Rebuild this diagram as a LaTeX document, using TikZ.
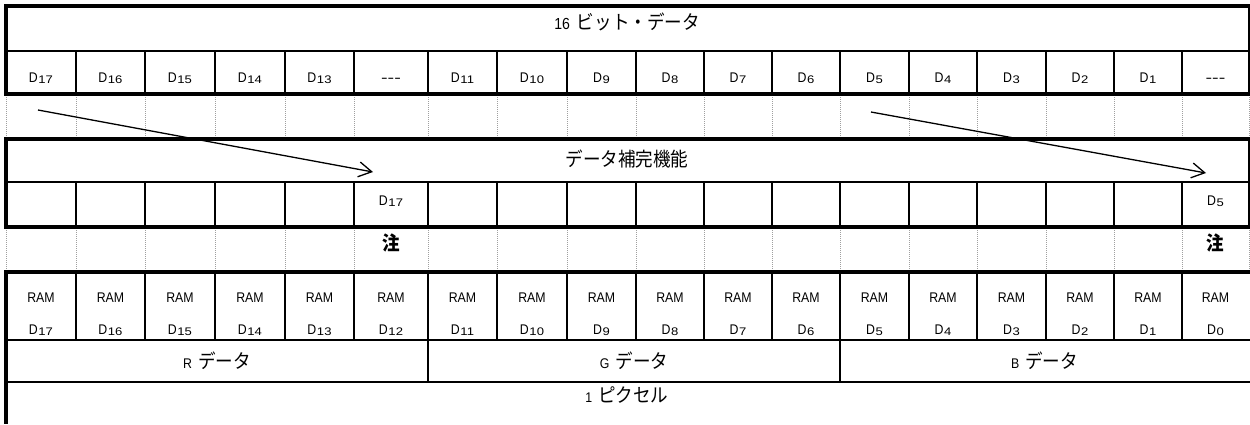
\documentclass[tikz,border=0pt]{standalone}
\usepackage{graphicx}
\usepackage{fontspec}
\setmainfont{Liberation Sans}[FakeStretch=0.88]
\newfontfamily\jpfont{Noto Sans CJK JP}[FakeStretch=0.9]
\usetikzlibrary{arrows.meta}
\newcommand\Dsub[1]{D\hspace{0.6pt}\raisebox{-1.3pt}{\scalebox{1.35}[1]{\fontsize{11}{11}\selectfont #1}}}
\newcommand\Jtxt[1]{{\jpfont\fontsize{19.5}{20}\selectfont #1}}
\newcommand\tripdash{\scalebox{1.6}[1]{-{}-{}-}}
\begin{document}
\begin{tikzpicture}[x=1pt,y=-1pt,
  lab/.style={font=\fontsize{14}{14}\selectfont, inner sep=0pt},
  biglab/.style={font=\fontsize{16}{16}\selectfont, inner sep=0pt},
  heavyrule/.style={line width=4.3pt},
  vrule/.style={line width=2.6pt},
  hrule/.style={line width=2.1pt},
  dotrule/.style={draw=gray!75, line width=1pt, dash pattern=on 1pt off 1pt},
  shiftarrow/.style={line width=1.3pt, -{Straight Barb[length=13pt,width=15pt,line width=1.3pt]}}]
\useasboundingbox (0,0) rectangle (1250,424);
\def\allx{6,76,145,215,285,354,428,497,567,636,704,772,840,909,977,1046,1114,1182,1249}
\def\innerx{76,145,215,285,354,428,497,567,636,704,772,840,909,977,1046,1114,1182}
% ---------- section 1 ----------
\draw[hrule] (6,51) -- (1249,51);
\foreach \x in \innerx {\draw[vrule] (\x,51) -- (\x,94);}
\draw[hrule] (1249,6) -- (1249,94);
\draw[heavyrule] (4,6) -- (1250,6);
\draw[heavyrule] (4,94) -- (1250,94);
\draw[heavyrule] (6,4) -- (6,96);
% dotted row 1
\foreach \x in \allx {\draw[dotrule] (\x,97) -- (\x,137);}
% ---------- section 2 ----------
\draw[hrule] (6,182) -- (1249,182);
\foreach \x in \innerx {\draw[vrule] (\x,182) -- (\x,227);}
\draw[hrule] (1249,139) -- (1249,227);
\draw[heavyrule] (4,139) -- (1250,139);
\draw[heavyrule] (4,227) -- (1250,227);
\draw[heavyrule] (6,137) -- (6,229);
% dotted row 2
\foreach \x in \allx {\draw[dotrule] (\x,230) -- (\x,270);}
% ---------- section 3 ----------
\foreach \x in \innerx {\draw[vrule] (\x,272) -- (\x,340);}
\draw[vrule] (428,340) -- (428,382);
\draw[vrule] (840,340) -- (840,382);
\draw[hrule] (6,340) -- (1250,340);
\draw[hrule] (6,382) -- (1250,382);
\draw[heavyrule] (4,272) -- (1250,272);
\draw[heavyrule] (6,270) -- (6,424);
% ---------- texts ----------
\node[biglab] (title1) at (627,22) {16\hspace{7pt}\Jtxt{ビット・データ}};
\node[lab] (b1) at (41,78) {\Dsub{17}};
\node[lab] (b2) at (110.5,78) {\Dsub{16}};
\node[lab] (b3) at (180,78) {\Dsub{15}};
\node[lab] (b4) at (250,78) {\Dsub{14}};
\node[lab] (b5) at (319.5,78) {\Dsub{13}};
\node[lab] (b6) at (391,80) {\tripdash};
\node[lab] (b7) at (462.5,78) {\Dsub{11}};
\node[lab] (b8) at (532,78) {\Dsub{10}};
\node[lab] (b9) at (601.5,78) {\Dsub{9}};
\node[lab] (b10) at (670,78) {\Dsub{8}};
\node[lab] (b11) at (738,78) {\Dsub{7}};
\node[lab] (b12) at (806,78) {\Dsub{6}};
\node[lab] (b13) at (874.5,78) {\Dsub{5}};
\node[lab] (b14) at (943,78) {\Dsub{4}};
\node[lab] (b15) at (1011.5,78) {\Dsub{3}};
\node[lab] (b16) at (1080,78) {\Dsub{2}};
\node[lab] (b17) at (1148,78) {\Dsub{1}};
\node[lab] (b18) at (1215.5,80) {\tripdash};
\node[lab] (title2) at (627,159) {\Jtxt{データ補完機能}};
\node[lab] (c6) at (391,201) {\Dsub{17}};
\node[lab] (c18) at (1215.5,201) {\Dsub{5}};
\node[lab] (n1) at (391,243) {\Jtxt{\bfseries 注}};
\node[lab] (n2) at (1215.5,243) {\Jtxt{\bfseries 注}};
\foreach \cx/\n [count=\i] in {41/17,110.5/16,180/15,250/14,319.5/13,391/12,462.5/11,532/10,601.5/9,670/8,738/7,806/6,874.5/5,943/4,1011.5/3,1080/2,1148/1,1215.5/0}{
  \node[lab] (ram\i) at (\cx,298) {RAM};
  \node[lab] (rd\i) at (\cx,330) {\Dsub{\n}};
}
\node[lab] (rdat) at (217,361) {R\hspace{6pt}\Jtxt{データ}};
\node[lab] (gdat) at (634,361) {G\hspace{6pt}\Jtxt{データ}};
\node[lab] (bdat) at (1044.5,361) {B\hspace{6pt}\Jtxt{データ}};
\node[lab] (pix) at (627,395) {1\hspace{6pt}\Jtxt{ピクセル}};
% ---------- arrows ----------
\coordinate (a1s) at (38,110);
\coordinate (a1e) at (373,172);
\coordinate (a2s) at (871,112);
\coordinate (a2e) at (1206,173);
\draw[shiftarrow] (a1s) -- (a1e);
\draw[shiftarrow] (a2s) -- (a2e);
\end{tikzpicture}
\end{document}
